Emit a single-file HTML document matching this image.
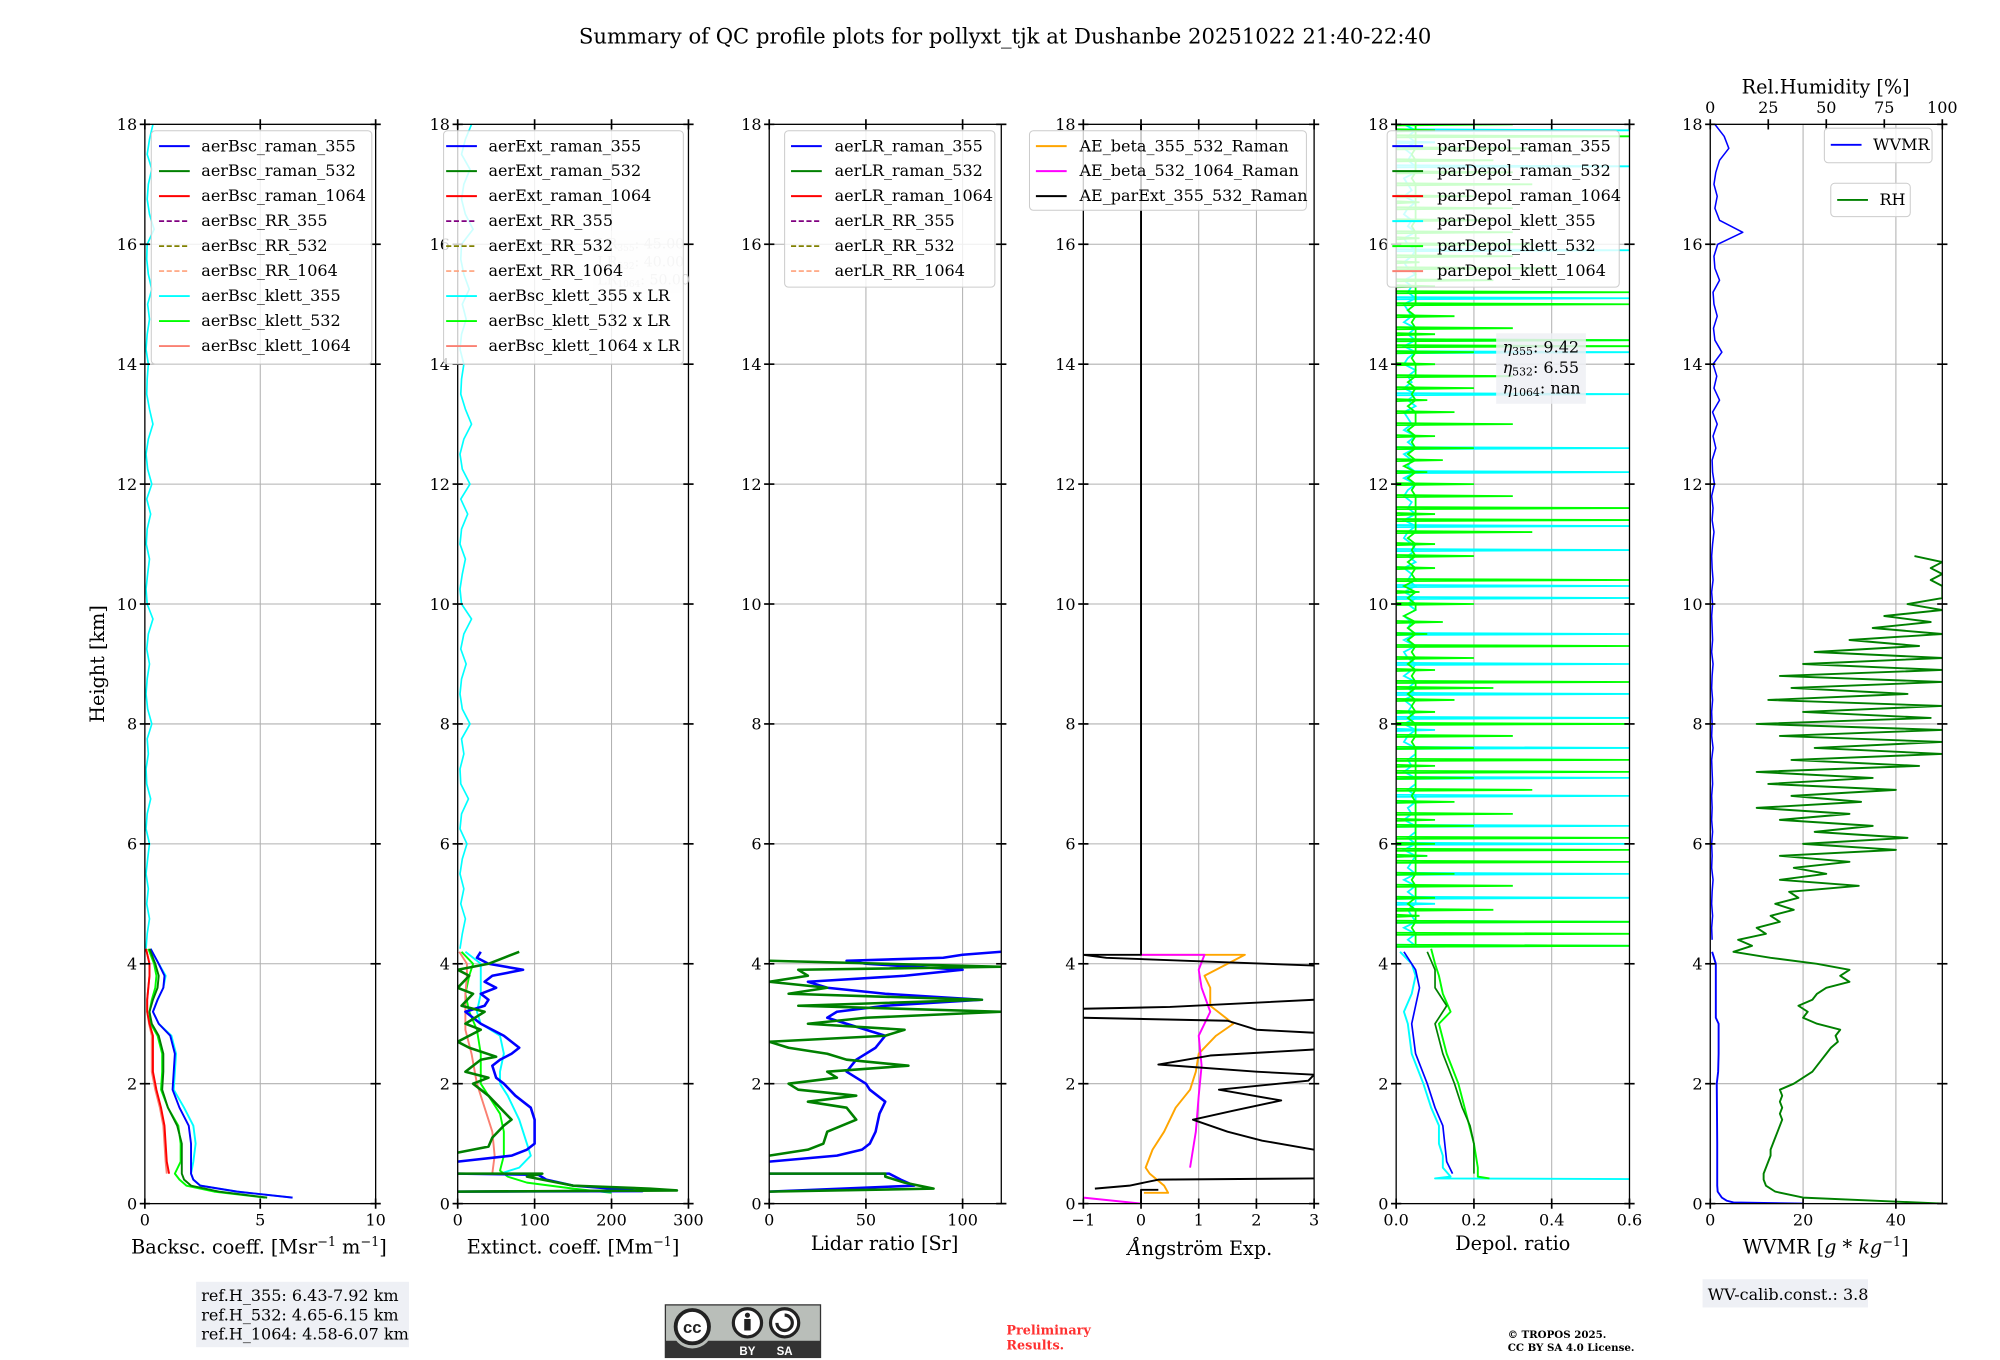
<!DOCTYPE html>
<html><head><meta charset="utf-8"><title>QC profile summary</title>
<style>
html,body{margin:0;padding:0;background:#fff;}
svg{display:block;font-family:"DejaVu Serif","Liberation Serif",serif;}
</style></head>
<body>
<svg id="fig" xmlns="http://www.w3.org/2000/svg" width="2000" height="1360" viewBox="0 0 1560 1061" preserveAspectRatio="none">
<rect x="0" y="0" width="1560" height="1061" fill="#fff"/>
<defs>
<clipPath id="c0"><rect x="113" y="97" width="180" height="842"/></clipPath>
<clipPath id="c1"><rect x="357" y="97" width="180" height="842"/></clipPath>
<clipPath id="c2"><rect x="600" y="97" width="181" height="842"/></clipPath>
<clipPath id="c3"><rect x="845" y="97" width="180" height="842"/></clipPath>
<clipPath id="c4"><rect x="1089" y="97" width="182" height="842"/></clipPath>
<clipPath id="c5"><rect x="1334" y="97" width="181" height="842"/></clipPath>
</defs>
<text x="784" y="34" font-size="16.5" text-anchor="middle">Summary of QC profile plots for pollyxt_tjk at Dushanbe 20251022 21:40-22:40</text>
<g id="grid"></g>
<g id="data"></g>
<g id="axes"></g>

<text x="202" y="978" font-size="15" text-anchor="middle">Backsc. coeff. [Msr<tspan font-size="10" dy="-6">−1</tspan><tspan dy="6"> m</tspan><tspan font-size="10" dy="-6">−1</tspan><tspan dy="6">]</tspan></text>
<text x="447" y="978" font-size="15" text-anchor="middle">Extinct. coeff. [Mm<tspan font-size="10" dy="-6">−1</tspan><tspan dy="6">]</tspan></text>
<text x="690" y="975" font-size="15" text-anchor="middle">Lidar ratio [Sr]</text>
<text x="936" y="979" font-size="15" text-anchor="middle" font-style="italic">Å<tspan font-style="normal">ngström Exp.</tspan></text>
<text x="1180" y="975" font-size="15" text-anchor="middle">Depol. ratio</text>
<text x="1424" y="978" font-size="15" text-anchor="middle">WVMR [<tspan font-style="italic">g * kg</tspan><tspan font-size="10" dy="-6">−1</tspan><tspan dy="6">]</tspan></text>
<text x="1424" y="73" font-size="15" text-anchor="middle">Rel.Humidity [%]</text>
<text transform="translate(81,518) rotate(-90)" font-size="15" text-anchor="middle">Height [km]</text>

<g font-size="12.5">
<rect x="118" y="102" width="172" height="182" rx="3" fill="#fff" fill-opacity="0.8" stroke="#ccc" stroke-width="0.8"/>
<line x1="124" y1="114" x2="148" y2="114" stroke="#0000ff" stroke-width="1.5"/><text x="157" y="118">aerBsc_raman_355</text>
<line x1="124" y1="133.5" x2="148" y2="133.5" stroke="#008000" stroke-width="1.5"/><text x="157" y="137.5">aerBsc_raman_532</text>
<line x1="124" y1="153" x2="148" y2="153" stroke="#ff0000" stroke-width="1.5"/><text x="157" y="157">aerBsc_raman_1064</text>
<line x1="124" y1="172.5" x2="148" y2="172.5" stroke="#800080" stroke-width="1.3" stroke-dasharray="4,2"/><text x="157" y="176.5">aerBsc_RR_355</text>
<line x1="124" y1="192" x2="148" y2="192" stroke="#808000" stroke-width="1.3" stroke-dasharray="4,2"/><text x="157" y="196">aerBsc_RR_532</text>
<line x1="124" y1="211.5" x2="148" y2="211.5" stroke="#ffa07a" stroke-width="1.3" stroke-dasharray="4,2"/><text x="157" y="215.5">aerBsc_RR_1064</text>
<line x1="124" y1="231" x2="148" y2="231" stroke="#00ffff" stroke-width="1.5"/><text x="157" y="235">aerBsc_klett_355</text>
<line x1="124" y1="250.5" x2="148" y2="250.5" stroke="#00ff00" stroke-width="1.5"/><text x="157" y="254.5">aerBsc_klett_532</text>
<line x1="124" y1="270" x2="148" y2="270" stroke="#fa8072" stroke-width="1.5"/><text x="157" y="274">aerBsc_klett_1064</text>
</g>
<g font-size="11" fill="#ccc">
<rect x="463" y="180" width="70" height="48" fill="#f0f0f4" fill-opacity="0.5"/>
<text x="466" y="194">LR<tspan font-size="7" dy="2">355</tspan><tspan dy="-2">: 45.00</tspan></text>
<text x="466" y="208">LR<tspan font-size="7" dy="2">532</tspan><tspan dy="-2">: 40.00</tspan></text>
<text x="466" y="222">LR<tspan font-size="7" dy="2">1064</tspan><tspan dy="-2">: 50.00</tspan></text>
</g>
<g font-size="12.5">
<rect x="346" y="102" width="187" height="182" rx="3" fill="#fff" fill-opacity="0.8" stroke="#ccc" stroke-width="0.8"/>
<line x1="348" y1="114" x2="372" y2="114" stroke="#0000ff" stroke-width="1.5"/><text x="381" y="118">aerExt_raman_355</text>
<line x1="348" y1="133.5" x2="372" y2="133.5" stroke="#008000" stroke-width="1.5"/><text x="381" y="137.5">aerExt_raman_532</text>
<line x1="348" y1="153" x2="372" y2="153" stroke="#ff0000" stroke-width="1.5"/><text x="381" y="157">aerExt_raman_1064</text>
<line x1="348" y1="172.5" x2="372" y2="172.5" stroke="#800080" stroke-width="1.3" stroke-dasharray="4,2"/><text x="381" y="176.5">aerExt_RR_355</text>
<line x1="348" y1="192" x2="372" y2="192" stroke="#808000" stroke-width="1.3" stroke-dasharray="4,2"/><text x="381" y="196">aerExt_RR_532</text>
<line x1="348" y1="211.5" x2="372" y2="211.5" stroke="#ffa07a" stroke-width="1.3" stroke-dasharray="4,2"/><text x="381" y="215.5">aerExt_RR_1064</text>
<line x1="348" y1="231" x2="372" y2="231" stroke="#00ffff" stroke-width="1.5"/><text x="381" y="235">aerBsc_klett_355 x LR</text>
<line x1="348" y1="250.5" x2="372" y2="250.5" stroke="#00ff00" stroke-width="1.5"/><text x="381" y="254.5">aerBsc_klett_532 x LR</text>
<line x1="348" y1="270" x2="372" y2="270" stroke="#fa8072" stroke-width="1.5"/><text x="381" y="274">aerBsc_klett_1064 x LR</text>
</g>
<g font-size="12.5">
<rect x="612" y="102" width="164" height="122" rx="3" fill="#fff" fill-opacity="0.8" stroke="#ccc" stroke-width="0.8"/>
<line x1="617" y1="114" x2="641" y2="114" stroke="#0000ff" stroke-width="1.5"/><text x="651" y="118">aerLR_raman_355</text>
<line x1="617" y1="133.5" x2="641" y2="133.5" stroke="#008000" stroke-width="1.5"/><text x="651" y="137.5">aerLR_raman_532</text>
<line x1="617" y1="153" x2="641" y2="153" stroke="#ff0000" stroke-width="1.5"/><text x="651" y="157">aerLR_raman_1064</text>
<line x1="617" y1="172.5" x2="641" y2="172.5" stroke="#800080" stroke-width="1.3" stroke-dasharray="4,2"/><text x="651" y="176.5">aerLR_RR_355</text>
<line x1="617" y1="192" x2="641" y2="192" stroke="#808000" stroke-width="1.3" stroke-dasharray="4,2"/><text x="651" y="196">aerLR_RR_532</text>
<line x1="617" y1="211.5" x2="641" y2="211.5" stroke="#ffa07a" stroke-width="1.3" stroke-dasharray="4,2"/><text x="651" y="215.5">aerLR_RR_1064</text>
</g>
<g font-size="12.5">
<rect x="803" y="102" width="216" height="62" rx="3" fill="#fff" fill-opacity="0.8" stroke="#ccc" stroke-width="0.8"/>
<line x1="808" y1="114" x2="832" y2="114" stroke="#ffa500" stroke-width="1.5"/><text x="842" y="118">AE_beta_355_532_Raman</text>
<line x1="808" y1="133.5" x2="832" y2="133.5" stroke="#ff00ff" stroke-width="1.5"/><text x="842" y="137.5">AE_beta_532_1064_Raman</text>
<line x1="808" y1="153" x2="832" y2="153" stroke="#000" stroke-width="1.5"/><text x="842" y="157">AE_parExt_355_532_Raman</text>
</g>
<g font-size="12.5">
<rect x="1082" y="102" width="181" height="122" rx="3" fill="#fff" fill-opacity="0.8" stroke="#ccc" stroke-width="0.8"/>
<line x1="1086" y1="114" x2="1110" y2="114" stroke="#0000ff" stroke-width="1.5"/><text x="1121" y="118">parDepol_raman_355</text>
<line x1="1086" y1="133.5" x2="1110" y2="133.5" stroke="#008000" stroke-width="1.5"/><text x="1121" y="137.5">parDepol_raman_532</text>
<line x1="1086" y1="153" x2="1110" y2="153" stroke="#ff0000" stroke-width="1.5"/><text x="1121" y="157">parDepol_raman_1064</text>
<line x1="1086" y1="172.5" x2="1110" y2="172.5" stroke="#00ffff" stroke-width="1.5"/><text x="1121" y="176.5">parDepol_klett_355</text>
<line x1="1086" y1="192" x2="1110" y2="192" stroke="#00ff00" stroke-width="1.5"/><text x="1121" y="196">parDepol_klett_532</text>
<line x1="1086" y1="211.5" x2="1110" y2="211.5" stroke="#fa8072" stroke-width="1.5"/><text x="1121" y="215.5">parDepol_klett_1064</text>
</g>
<g font-size="12.5">
<rect x="1167" y="260" width="70" height="55" fill="#eef0f5" fill-opacity="0.85"/>
<text x="1172" y="275"><tspan font-style="italic">η</tspan><tspan font-size="8.5" dy="2">355</tspan><tspan dy="-2">: 9.42</tspan></text>
<text x="1172" y="291"><tspan font-style="italic">η</tspan><tspan font-size="8.5" dy="2">532</tspan><tspan dy="-2">: 6.55</tspan></text>
<text x="1172" y="307"><tspan font-style="italic">η</tspan><tspan font-size="8.5" dy="2">1064</tspan><tspan dy="-2">: nan</tspan></text>
</g>
<g font-size="12.5">
<rect x="1423" y="100" width="84" height="27" rx="3" fill="#fff" fill-opacity="0.8" stroke="#ccc" stroke-width="0.8"/>
<line x1="1428" y1="113" x2="1452" y2="113" stroke="#0000ff" stroke-width="1.5"/><text x="1461" y="117">WVMR</text>
</g>
<g font-size="12.5">
<rect x="1428" y="143" width="62" height="26" rx="3" fill="#fff" fill-opacity="0.8" stroke="#ccc" stroke-width="0.8"/>
<line x1="1433" y1="156" x2="1457" y2="156" stroke="#008000" stroke-width="1.5"/><text x="1466" y="160">RH</text>
</g>

<g font-size="12.5">
<rect x="153" y="1000" width="166" height="51" fill="#eef0f5"/>
<text x="157" y="1015">ref.H_355: 6.43-7.92 km</text>
<text x="157" y="1030">ref.H_532: 4.65-6.15 km</text>
<text x="157" y="1045">ref.H_1064: 4.58-6.07 km</text>
</g>
<g font-size="12.5">
<rect x="1328" y="998" width="129" height="22" fill="#eef0f5"/>
<text x="1332" y="1014">WV-calib.const.: 3.8</text>
</g>
<g>
<rect x="519" y="1018" width="121" height="41" fill="#b9beb9" stroke="#333" stroke-width="1"/>
<rect x="519" y="1046" width="121" height="13" fill="#333"/>
<circle cx="540" cy="1036" r="16" fill="#b9beb9"/>
<circle cx="540" cy="1035" r="13" fill="#fff" stroke="#222" stroke-width="3"/>
<text x="540" y="1040" font-family="Liberation Sans,sans-serif" font-weight="bold" font-size="13" text-anchor="middle" fill="#222">cc</text>
<circle cx="583" cy="1032" r="11" fill="#fff" stroke="#222" stroke-width="2.5"/>
<circle cx="583" cy="1026" r="2" fill="#222"/><rect x="580.5" y="1029" width="5" height="9" fill="#222"/>
<circle cx="612" cy="1032" r="11" fill="#fff" stroke="#222" stroke-width="2.5"/>
<path d="M606 1032 a6 6 0 1 0 6 -6" fill="none" stroke="#222" stroke-width="2.5"/>
<text x="583" y="1057" font-family="Liberation Sans,sans-serif" font-weight="bold" font-size="9" text-anchor="middle" fill="#fff">BY</text>
<text x="612" y="1057" font-family="Liberation Sans,sans-serif" font-weight="bold" font-size="9" text-anchor="middle" fill="#fff">SA</text>
</g>
<text x="785" y="1041" font-size="10" font-weight="bold" fill="#ff3030">Preliminary</text>
<text x="785" y="1053" font-size="10" font-weight="bold" fill="#ff3030">Results.</text>
<text x="1176" y="1044" font-size="8" font-weight="bold">© TROPOS 2025.</text>
<text x="1176" y="1054" font-size="8" font-weight="bold">CC BY SA 4.0 License.</text>
</svg>

<script>
const bscH = [0.1,0.2,0.3,0.4,0.5,0.7,1.0,1.3,1.6,1.9,2.2,2.5,2.8,3.0,3.2,3.4,3.6,3.8,4.0,4.25];
const bsc355 = [6.4,4.0,2.4,2.1,2.0,2.0,2.0,1.9,1.5,1.2,1.25,1.3,1.1,0.6,0.35,0.55,0.8,0.85,0.6,0.25];
const bsc532 = [5.3,3.2,2.0,1.7,1.6,1.6,1.6,1.4,1.0,0.75,0.8,0.8,0.6,0.3,0.2,0.35,0.55,0.6,0.45,0.2];
const bscKlett355 = [6.4,4.0,2.4,2.1,2.0,2.1,2.2,2.1,1.7,1.25,1.3,1.35,1.15,0.6,0.35,0.55,0.8,0.9,0.6,0.25];
const bscKlett532 = [5.2,3.0,1.8,1.5,1.3,1.55,1.55,1.45,1.0,0.7,0.75,0.75,0.55,0.25,0.2,0.3,0.45,0.5,0.4,0.15];
const bscH1064 = [0.5,0.7,1.0,1.3,1.6,1.9,2.2,2.5,2.8,3.0,3.2,3.4,3.6,3.8,4.0,4.25];
const bsc1064 = [1.05,0.95,0.9,0.85,0.7,0.5,0.35,0.35,0.35,0.2,0.1,0.1,0.15,0.2,0.2,0.05];
const bscKlett1064 = [0.95,0.9,0.85,0.8,0.65,0.45,0.3,0.3,0.3,0.18,0.1,0.1,0.15,0.2,0.2,0.05];
const upperStart = 4.25, upperStep = 0.25;
const bscKlett355Upper = [0.05,0.1,0.2,0.08,0.15,0.05,0.12,0.2,0.05,0.1,0.25,0.08,0.05,0.15,0.1,0.3,0.12,0.05,0.1,0.2,0.08,0.15,0.35,0.1,0.05,0.12,0.2,0.06,0.1,0.25,0.08,0.3,0.12,0.05,0.15,0.35,0.2,0.08,0.1,0.15,0.05,0.1,0.2,0.12,0.3,0.15,0.08,0.1,0.4,0.2,0.1,0.15,0.3,0.1,0.2,0.35];
const ext355H = [0.2,0.21,0.25,0.3,0.4,0.48,0.5,null,0.7,0.8,0.9,1.0,1.2,1.4,1.6,1.8,2.0,2.1,2.3,2.4,2.5,2.6,2.7,2.8,2.9,3.0,3.1,3.2,3.3,3.4,3.5,3.6,3.7,3.8,3.9,4.0,4.1,4.2];
const ext355 = [0,240,200,150,115,105,0,null,0,70,90,100,100,100,95,75,60,50,45,55,70,80,70,60,45,30,20,10,35,40,30,50,35,45,85,40,25,30];
const ext532H = [0.2,0.22,0.25,0.3,0.45,0.5,0.5,null,0.85,0.95,1.1,1.3,1.4,1.6,1.8,2.0,2.1,2.2,2.4,2.45,2.6,2.7,2.9,3.0,3.2,3.3,3.5,3.6,3.8,3.9,4.0,4.1,4.2];
const ext532 = [0,285,250,150,90,110,0,null,0,40,45,60,70,55,40,20,40,10,30,50,15,0,30,10,35,5,20,0,15,0,40,60,80];
const extKlettH = [0.5,0.6,0.8,1.0,1.4,1.8,2.0,2.2,2.5,2.8,3.0,3.2,3.5,3.8,4.0,4.2];
const extKlett355 = [55,80,95,90,80,65,55,55,60,55,30,25,30,30,30,10];
const extKlett532H = [0.18,0.25,0.35,0.45,0.55,0.8,1.2,1.5,1.8,2.0,2.5,2.9,3.2,3.5,3.8,4.0,4.2];
const extKlett532 = [200,150,90,65,55,60,60,55,40,30,30,25,15,10,15,20,5];
const extKlett1064H = [0.5,0.8,1.2,1.6,2.0,2.5,2.9,3.2,3.5,3.8,4.0,4.2];
const extKlett1064 = [45,48,45,35,25,18,10,10,10,12,12,2];
const extKlett355Upper = [3,6,10,4,8,3,6,12,3,5,14,4,3,8,5,16,6,3,5,11,4,8,18,5,3,6,10,3,5,13,4,16,6,3,8,18,10,4,5,8,3,5,11,6,15,8,4,5,20,10,5,8,16,5,10,18];
const lr355H = [0.2,0.3,0.4,0.5,0.5,null,0.7,0.8,0.9,1.0,1.2,1.5,1.7,1.9,2.0,2.2,2.4,2.6,2.8,2.9,3.0,3.1,3.2,3.3,3.4,3.5,3.6,3.7,3.8,3.9,4.0,4.05,4.1,4.15,4.2];
const lr355 = [0,75,68,62,0,null,0,35,48,52,55,57,60,52,50,40,45,55,60,50,40,30,35,60,110,60,30,20,70,100,50,40,90,100,120];
const lr532H = [0.2,0.25,0.35,0.45,0.5,0.5,null,0.8,0.9,1.0,1.2,1.4,1.6,1.7,1.8,1.9,2.0,2.1,2.2,2.3,2.4,2.5,2.6,2.7,2.8,2.9,3.0,3.1,3.2,3.3,3.4,3.5,3.6,3.7,3.8,3.9,3.95,4.0,4.05];
const lr532 = [0,85,70,60,60,0,null,0,20,28,30,45,40,20,45,15,10,35,30,72,40,30,10,0,60,70,20,50,120,15,110,10,30,0,20,15,120,60,0];
const aeParH = [18,4.15,4.15,4.1,3.97,null,3.4,3.28,3.25,null,3.1,3.05,2.9,2.85,null,2.57,2.47,2.32,2.2,2.15,2.05,1.9,1.72,1.55,1.4,1.2,1.05,0.9,null,0.42,0.4,0.3,0.25,null,0.23,0.23,0];
const aePar = [0,0,-1,-0.6,3,null,3,0.5,-1,null,-1,1.5,2.0,3,null,3,1.2,0.3,2.0,3,2.9,1.35,2.43,1.6,0.9,1.5,2.1,3,null,3,0.3,-0.2,-0.8,null,0.3,0,0];
const ae355H = [0.18,0.18,0.3,0.5,0.6,0.9,1.2,1.6,1.9,2.2,2.5,2.8,3.0,3.3,3.6,3.8,4.0,4.15,4.15];
const ae355 = [0.05,0.47,0.4,0.15,0.08,0.2,0.4,0.6,0.85,0.95,1.0,1.3,1.6,1.2,1.2,1.1,1.5,1.8,0];
const ae532H = [0,0.1,null,0.6,1.2,1.8,2.3,2.8,3.2,3.6,3.9,4.15,4.15];
const ae532 = [0,-1,null,0.85,0.95,1.0,1.05,1.0,1.2,1.05,1.0,1.1,0];
const depH = [0.5,0.7,1.0,1.3,1.6,2.0,2.5,3.0,3.3,3.6,3.9,4.2];
const dep355 = [0.145,0.13,0.125,0.12,0.1,0.08,0.05,0.04,0.05,0.06,0.05,0.02];
const dep532 = [0.2,0.2,0.2,0.19,0.17,0.15,0.12,0.1,0.13,0.1,0.1,0.08];
const depKlett355H = [0.41,0.42,0.45,0.6,0.8,1.0,1.3,1.6,2.0,2.5,3.0,3.2,3.5,3.8,4.0,4.2];
const depKlett355 = [0.6,0.1,0.14,0.12,0.12,0.11,0.11,0.09,0.07,0.04,0.03,0.02,0.04,0.05,0.04,0.01];
const depKlett532H = [0.42,0.45,0.6,1.0,1.5,2.0,2.5,3.0,3.2,3.5,3.8,4.0,4.25];
const depKlett532 = [0.24,0.21,0.21,0.2,0.18,0.16,0.13,0.11,0.14,0.12,0.11,0.1,0.09];
const depUpperStart = 4.3, depUpperStep = 0.1;
const depKlett532Upper = [0.6,0.05,0.6,0.04,0.6,0.06,0.25,0.03,0.1,0.05,0.3,0.04,0.15,0.05,0.6,0.08,0.6,0.1,0.6,0.05,0.2,0.1,0.3,0.05,0.15,0.04,0.35,0.05,0.2,0.6,0.1,0.6,0.05,0.2,0.04,0.3,0.05,0.6,0.03,0.1,0.04,0.15,0.03,0.25,0.6,0.04,0.1,0.03,0.2,0.04,0.6,0.03,0.08,0.03,0.12,0.02,0.05,0.2,0.03,0.06,0.02,0.6,0.04,0.1,0.03,0.2,0.04,0.1,0.03,0.35,0.05,0.6,0.1,0.6,0.05,0.3,0.04,0.2,0.03,0.08,0.02,0.12,0.03,0.2,0.04,0.1,0.03,0.3,0.05,0.15,0.03,0.08,0.04,0.2,0.03,0.3,0.05,0.1,0.04,0.2,0.6,0.6,0.1,0.3,0.04,0.15,0.03,0.6,0.05,0.6,0.1,0.25,0.05,0.4,0.06,0.3,0.05,0.35,0.06,0.3,0.04,0.25,0.05,0.3,0.06,0.2,0.05,0.35,0.04,0.3,0.05,0.25,0.04,0.35,0.05,0.6,0.1,0.3];
const depKlett355Upper = [0.6,0.03,0.05,0.02,0.6,0.04,0.03,0.1,0.6,0.03,0.05,0.02,0.6,0.03,0.04,0.08,0.02,0.6,0.03,0.05,0.6,0.02,0.04,0.03,0.1,0.6,0.03,0.05,0.6,0.02,0.04,0.03,0.05,0.6,0.02,0.03,0.1,0.02,0.6,0.03,0.04,0.02,0.6,0.03,0.05,0.02,0.04,0.6,0.03,0.02,0.05,0.02,0.6,0.03,0.04,0.02,0.05,0.03,0.6,0.02,0.6,0.03,0.04,0.02,0.05,0.03,0.6,0.04,0.02,0.03,0.6,0.02,0.05,0.03,0.04,0.02,0.03,0.05,0.02,0.6,0.03,0.04,0.02,0.6,0.03,0.05,0.02,0.04,0.03,0.02,0.05,0.03,0.6,0.02,0.04,0.03,0.05,0.02,0.03,0.6,0.02,0.6,0.03,0.05,0.02,0.04,0.03,0.02,0.6,0.03,0.04,0.02,0.05,0.03,0.02,0.04,0.6,0.03,0.02,0.05,0.03,0.04,0.02,0.03,0.05,0.02,0.04,0.03,0.02,0.05,0.6,0.03,0.04,0.02,0.1,0.03,0.6,0.02];
const wvH = [0,0.02,0.05,0.1,0.2,0.3,0.5,1.0,2.0,2.2,2.5,3.0,3.1,3.5,4.0,4.1,4.2];
const wvmr = [20,5,3.5,2.5,1.6,1.5,1.5,1.5,1.4,1.7,1.8,1.8,1.2,1.2,1.2,0.8,0.4];
const wvUpperStart = 4.4, wvUpperStep = 0.2;
const wvmrUpper = [0.4,0.3,0.5,0.3,0.4,0.6,0.3,0.4,0.3,0.5,0.3,0.4,0.3,0.5,0.4,0.3,0.6,0.3,0.4,0.3,0.5,0.3,0.4,0.6,0.3,0.5,0.4,0.3,0.5,0.3,0.6,0.4,0.3,0.5,0.8,0.4,0.6,0.3,0.9,0.5,0.4,1.2,0.6,1.5,0.5,2.0,0.8,1.4,0.6,2.5,1.0,0.7,1.5,0.8,0.6,2.0,1.0,0.8,1.6,7.0,2.0,1.0,1.5,0.8,1.2,2.0,4.0,3.0,1.0];
const rhStep = 0.1;
const rh = [100,40,28,24,23,23,24,25,26,26,27,28,29,30,31,30,31,30,31,30,36,40,44,46,48,50,52,55,54,56,46,40,42,38,44,46,50,60,56,60,46,26,10,18,12,24,20,30,26,36,28,38,34,64,30,50,36,60,30,80,40,85,45,70,30,60,20,65,35,80,25,70,20,90,35,100,45,100,30,100,20,95,40,100,25,85,35,100,30,100,40,100,45,90,60,100,70,95,75,100,85,100,100,100,95,100,95,100,88];

const panels = [
 {x0:113,x1:293,d0:0,d1:10,xt:[0,5,10],fmt:v=>String(v)},
 {x0:357,x1:537,d0:0,d1:300,xt:[0,100,200,300],fmt:v=>String(v)},
 {x0:600,x1:781,d0:0,d1:120,xt:[0,50,100],fmt:v=>String(v)},
 {x0:845,x1:1025,d0:-1,d1:3,xt:[-1,0,1,2,3],fmt:v=>v<0?'−'+Math.abs(v):String(v)},
 {x0:1089,x1:1271,d0:0,d1:0.6,xt:[0,0.2,0.4,0.6],fmt:v=>v.toFixed(1)},
 {x0:1334,x1:1515,d0:0,d1:50,xt:[0,20,40],fmt:v=>String(v)}
];
const Y0 = 939, Y1 = 97, HMAX = 18;
const yTicks = [0,2,4,6,8,10,12,14,16,18];
const rhTicks = [0,25,50,75,100];
const NS = 'http://www.w3.org/2000/svg';
function yS(h){ return Y0 - (h/HMAX)*(Y0-Y1); }
function xS(p,v){ const P=panels[p]; return P.x0 + (v-P.d0)/(P.d1-P.d0)*(P.x1-P.x0); }
function xRH(v){ const P=panels[5]; return P.x0 + v/100*(P.x1-P.x0); }
function mk(tag, attrs, parent){ const e=document.createElementNS(NS,tag); for(const k in attrs) e.setAttribute(k,attrs[k]); parent.appendChild(e); return e; }

const gGrid = document.getElementById('grid');
const gData = document.getElementById('data');
const gAxes = document.getElementById('axes');

panels.forEach((P,i)=>{
  P.xt.forEach(v=>{
    const x = xS(i,v);
    const gl = mk('line',{x1:x,x2:x,y1:Y1,y2:Y0,stroke:'#b0b0b0','stroke-width':0.8},gGrid);
    
    
    const tk = mk('line',{x1:x,x2:x,y1:Y0-4,y2:Y0+4,stroke:'#000','stroke-width':1.3},gAxes);
    
    
    if(i!==5){
      const tt = mk('line',{x1:x,x2:x,y1:Y1-4,y2:Y1+4,stroke:'#000','stroke-width':1.3},gAxes);
      
      
    }
    const lb = mk('text',{x:x,y:Y0+17,'font-size':12.5,'text-anchor':'middle'},gAxes);
    lb.textContent = P.fmt(v);
    
    
  });
  yTicks.forEach(h=>{
    const y = yS(h);
    const gl = mk('line',{x1:P.x0,x2:P.x1,y1:y,y2:y,stroke:'#b0b0b0','stroke-width':0.8},gGrid);
    
    
    const tl = mk('line',{x1:P.x0-4,x2:P.x0+4,y1:y,y2:y,stroke:'#000','stroke-width':1.3},gAxes);
    
    
    const tr = mk('line',{x1:P.x1-4,x2:P.x1+4,y1:y,y2:y,stroke:'#000','stroke-width':1.3},gAxes);
    
    
    const lb = mk('text',{x:P.x0-6,y:y+4.5,'font-size':12.5,'text-anchor':'end'},gAxes);
    lb.textContent = String(h);
    
    
  });
  const fr = mk('rect',{x:P.x0,y:Y1,width:P.x1-P.x0,height:Y0-Y1,fill:'none',stroke:'#000','stroke-width':1},gAxes);
  
  
});
rhTicks.forEach(v=>{
  const x = xRH(v);
  const tk = mk('line',{x1:x,x2:x,y1:Y1-4,y2:Y1+4,stroke:'#000','stroke-width':1.3},gAxes);
  
  
  const lb = mk('text',{x:x,y:Y1-9,'font-size':12.5,'text-anchor':'middle'},gAxes);
  lb.textContent = String(v);
  
  
});

function series(p, hs, vs, color, width, name, xf){
  const g = mk('g',{'clip-path':'url(#c'+p+')'},gData);
  
  
  let pts=[];
  const flush=()=>{ if(pts.length>1){ const pl=mk('polyline',{points:pts.join(' '),fill:'none',stroke:color,'stroke-width':width,'stroke-linejoin':'round'},g);   } pts=[]; };
  for(let k=0;k<hs.length;k++){
    if(hs[k]===null||vs[k]===null){ flush(); continue; }
    const x = xf ? xf(vs[k]) : xS(p,vs[k]);
    pts.push(x.toFixed(2)+','+yS(hs[k]).toFixed(2));
  }
  flush();
}
// spiky profile: thin baseline wiggle plus a horizontal spike per sample
function spikes(p, hs, vs, color, width, name, base){
  const g = mk('g',{'clip-path':'url(#c'+p+')'},gData);
  
  
  const pts=[];
  for(let k=0;k<hs.length;k++){
    const y=yS(hs[k]);
    const xb=xS(p,Math.min(vs[k],base));
    pts.push(xb.toFixed(2)+','+y.toFixed(2));
    if(vs[k]>base){
      const ln=mk('polyline',{points:xS(p,0).toFixed(2)+','+(y+0.8).toFixed(2)+' '+xS(p,vs[k]).toFixed(2)+','+y.toFixed(2)+' '+xS(p,0).toFixed(2)+','+(y-0.8).toFixed(2),fill:'none',stroke:color,'stroke-width':width},g);
      
      
    }
  }
  const pl=mk('polyline',{points:pts.join(' '),fill:'none',stroke:color,'stroke-width':width},g);
  
  
}
function grid(start, step, n){ const a=[]; for(let k=0;k<n;k++) a.push(+(start+k*step).toFixed(3)); return a; }

series(0,bscH,bscKlett355,'#00ffff',1.5,'aerbsc-klett-355');
series(0,grid(upperStart,upperStep,bscKlett355Upper.length),bscKlett355Upper,'#00ffff',1.3,'aerbsc-klett-355-upper');
series(0,bscH,bscKlett532,'#00ff00',1.5,'aerbsc-klett-532');
series(0,bscH1064,bscKlett1064,'#fa8072',1.5,'aerbsc-klett-1064');
series(0,bscH,bsc355,'#0000ff',1.5,'aerbsc-raman-355');
series(0,bscH,bsc532,'#008000',1.5,'aerbsc-raman-532');
series(0,bscH1064,bsc1064,'#ff0000',1.5,'aerbsc-raman-1064');
series(1,extKlettH,extKlett355,'#00ffff',1.5,'aerext-klett-355');
series(1,grid(upperStart,upperStep,extKlett355Upper.length),extKlett355Upper,'#00ffff',1.3,'aerext-klett-355-upper');
series(1,extKlett532H,extKlett532,'#00ff00',1.5,'aerext-klett-532');
series(1,extKlett1064H,extKlett1064,'#fa8072',1.5,'aerext-klett-1064');
series(1,ext355H,ext355,'#0000ff',2,'aerext-raman-355');
series(1,ext532H,ext532,'#008000',2,'aerext-raman-532');
series(2,lr355H,lr355,'#0000ff',2,'aerlr-raman-355');
series(2,lr532H,lr532,'#008000',2,'aerlr-raman-532');
series(3,ae355H,ae355,'#ffa500',1.5,'ae-beta-355-532');
series(3,ae532H,ae532,'#ff00ff',1.5,'ae-beta-532-1064');
series(3,aeParH,aePar,'#000000',1.5,'ae-parext-355-532');
spikes(4,grid(depUpperStart,depUpperStep,depKlett355Upper.length),depKlett355Upper,'#00ffff',1.4,'pardepol-klett-355-upper',0.05);
spikes(4,grid(depUpperStart,depUpperStep,depKlett532Upper.length),depKlett532Upper,'#00ff00',1.4,'pardepol-klett-532-upper',0.05);
series(4,depKlett355H,depKlett355,'#00ffff',1.5,'pardepol-klett-355');
series(4,depKlett532H,depKlett532,'#00ff00',1.5,'pardepol-klett-532');
series(4,depH,dep355,'#0000ff',1.3,'pardepol-raman-355');
series(4,depH,dep532,'#008000',1.3,'pardepol-raman-532');
series(5,grid(0,rhStep,rh.length),rh,'#008000',1.5,'relative-humidity',xRH);
series(5,wvH,wvmr,'#0000ff',1.5,'wvmr');
series(5,grid(wvUpperStart,wvUpperStep,wvmrUpper.length),wvmrUpper,'#0000ff',1.2,'wvmr-upper');
</script>
</body></html>
